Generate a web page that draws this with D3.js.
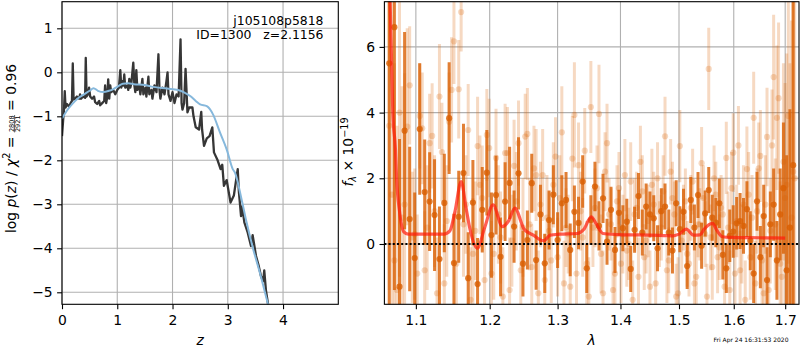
<!DOCTYPE html>
<html>
<head>
<meta charset="utf-8">
<script src="https://cdn.jsdelivr.net/npm/d3@7"></script>
<style>
body { margin: 0; background: #fff; }
svg { display: block; font-family: "DejaVu Sans", sans-serif; }
</style>
</head>
<body>
<script>
const gridColor = "#b0b0b0";
const orange = "#d95f02";
const fontSize = "13.9px";

// ---- left panel: redshift probability ----
const zTicks = [0, 1, 2, 3, 4];
const logpTicks = [-5, -4, -3, -2, -1, 0, 1];

const pzZ = [0, 0.02, 0.036, 0.05, 0.064, 0.09, 0.127, 0.155, 0.18, 0.195, 0.21, 0.236, 0.27, 0.31, 0.327, 0.345, 0.38, 0.418, 0.43, 0.445,
	0.47, 0.49, 0.51, 0.545, 0.58, 0.6, 0.636, 0.673, 0.69, 0.727, 0.764, 0.78, 0.8, 0.82, 0.836, 0.855, 0.873, 0.89, 0.927, 0.964,
	1.0, 1.03, 1.055, 1.073, 1.09, 1.11, 1.127, 1.145, 1.18, 1.2, 1.218, 1.236, 1.255, 1.29, 1.31, 1.327, 1.345, 1.364, 1.4, 1.418,
	1.455, 1.473, 1.51, 1.527, 1.564, 1.58, 1.618, 1.636, 1.673, 1.71, 1.745, 1.764, 1.78, 1.818, 1.855, 1.89, 1.91, 1.927, 1.964, 2.0,
	2.036, 2.073, 2.11, 2.145, 2.164, 2.18, 2.21, 2.236, 2.27, 2.3, 2.36, 2.38, 2.42, 2.48, 2.52, 2.535, 2.57, 2.62, 2.67, 2.72,
	2.75, 2.81, 2.87, 2.9, 2.93, 2.98, 3.05, 3.11, 3.18, 3.2, 3.24, 3.26, 3.3, 3.36, 3.42, 3.45, 3.51, 3.56, 3.6, 3.64,
	3.66, 3.69, 3.745];
const pzLogp = [-1.45, -1.1, -0.85, -0.43, -0.8, -0.72, -0.78, -0.7, -0.65, 0.2, -0.62, -0.6, -0.55, -0.6, -0.5, -0.6, -0.55, -0.58, 0.33, -0.55,
	-0.5, -0.35, -0.55, -0.6, -0.55, -0.68, -0.72, -0.65, -0.75, -0.7, -0.65, -0.3, -0.7, -0.55, -0.16, -0.6, -0.3, -0.45, -0.4, -0.5,
	-0.4, -0.35, 0.05, -0.35, -0.2, -0.3, -0.05, -0.35, -0.3, -0.4, -0.15, -0.35, -0.25, 0.22, -0.3, -0.45, 0.05, -0.4, -0.3, -0.5,
	-0.15, -0.5, -0.35, -0.55, -0.1, -0.5, -0.4, -0.6, -0.3, -0.45, 0.41, -0.4, -0.6, -0.35, -0.5, -0.2, 0.0, -0.5, -0.65, -0.45,
	-0.7, -0.5, -0.55, 0.75, -0.7, -0.85, -0.7, 0.08, -0.91, -0.8, -0.8, -1.0, -1.25, -1.3, -0.9, -1.3, -1.67, -1.5, -1.45, -1.25,
	-1.82, -1.98, -2.2, -2.1, -2.58, -2.45, -2.96, -2.8, -2.2, -2.7, -3.27, -3.05, -3.41, -3.64, -3.95, -3.7, -4.17, -4.4, -4.63, -4.75,
	-4.5, -4.95, -5.4];

const priorZ = [0, 0.1, 0.2, 0.27, 0.4, 0.5, 0.57, 0.65, 0.75, 0.85, 0.93, 1.0, 1.1, 1.2, 1.3, 1.5, 1.6, 1.9, 2.1, 2.2,
	2.32, 2.42, 2.5, 2.62, 2.73, 2.86, 2.98, 3.09, 3.13, 3.25, 3.34, 3.46, 3.58, 3.72, 3.78];
const priorLogp = [-1.05, -0.85, -0.7, -0.61, -0.5, -0.42, -0.36, -0.42, -0.45, -0.42, -0.38, -0.33, -0.26, -0.25, -0.27, -0.29, -0.32, -0.37, -0.4, -0.45,
	-0.54, -0.65, -0.73, -0.77, -0.95, -1.37, -1.75, -2.2, -2.28, -2.89, -3.41, -4.02, -4.55, -5.23, -5.5];

const objName = "j105108p5818";
const objInfo = "ID=1300\u00a0\u00a0\u00a0z=2.1156";
const chiNum = "2808";
const chiDen = "2921";
const chiRatio = "0.96";

// ---- right panel: spectrum ----
const lamTicks = [1.1, 1.2, 1.3, 1.4, 1.5, 1.6, 1.7];
const fluxTicks = [0, 2, 4, 6];

const waveA = [1.0660, 1.0725, 1.0790, 1.0855, 1.0920, 1.0985, 1.1050, 1.1115, 1.1180, 1.1245,
	1.1310, 1.1375, 1.1440, 1.1505, 1.1570, 1.1635, 1.1700, 1.1765, 1.1830, 1.1895,
	1.1960, 1.2025, 1.2090, 1.2155, 1.2220, 1.2285, 1.2350, 1.2415, 1.2480, 1.2545,
	1.2610, 1.2675, 1.2740, 1.2805, 1.2870, 1.2935, 1.3000, 1.3065, 1.3130, 1.3195,
	1.3260, 1.3325, 1.3390, 1.3455, 1.3520, 1.3585, 1.3650, 1.3715, 1.3780, 1.3845,
	1.3910, 1.3975, 1.4040, 1.4105, 1.4170, 1.4235, 1.4300, 1.4365, 1.4430, 1.4495,
	1.4560, 1.4625, 1.4690, 1.4755, 1.4820, 1.4885, 1.4950, 1.5015, 1.5080, 1.5145,
	1.5210, 1.5275, 1.5340, 1.5405, 1.5470, 1.5535, 1.5600, 1.5665, 1.5730, 1.5795,
	1.5860, 1.5925, 1.5990, 1.6055, 1.6120, 1.6185, 1.6250, 1.6315, 1.6380, 1.6445,
	1.6510, 1.6575, 1.6640, 1.6705, 1.6770, 1.6835, 1.6900, 1.6965, 1.7030, 1.7095,
	1.7160];
const waveB = [1.0693, 1.0758, 1.0823, 1.0888, 1.0953, 1.1018, 1.1083, 1.1148, 1.1213, 1.1278,
	1.1343, 1.1408, 1.1473, 1.1538, 1.1603, 1.1668, 1.1733, 1.1798, 1.1863, 1.1928,
	1.1993, 1.2058, 1.2123, 1.2188, 1.2253, 1.2318, 1.2383, 1.2448, 1.2513, 1.2578,
	1.2643, 1.2708, 1.2773, 1.2838, 1.2903, 1.2968, 1.3033, 1.3098, 1.3163, 1.3228,
	1.3293, 1.3358, 1.3423, 1.3488, 1.3553, 1.3618, 1.3683, 1.3748, 1.3813, 1.3878,
	1.3943, 1.4008, 1.4073, 1.4138, 1.4203, 1.4268, 1.4333, 1.4398, 1.4463, 1.4528,
	1.4593, 1.4658, 1.4723, 1.4788, 1.4853, 1.4918, 1.4983, 1.5048, 1.5113, 1.5178,
	1.5243, 1.5308, 1.5373, 1.5438, 1.5503, 1.5568, 1.5633, 1.5698, 1.5763, 1.5828,
	1.5893, 1.5958, 1.6023, 1.6088, 1.6153, 1.6218, 1.6283, 1.6348, 1.6413, 1.6478,
	1.6543, 1.6608, 1.6673, 1.6738, 1.6803, 1.6868, 1.6933, 1.6998, 1.7063, 1.7128,
	1.7193];

const darkFlux = [5.5, 6.6, -1.3, 3.45, 0.76, -0.43, 3.5, 1.58, 1.29, 0.88,
	-0.46, 1.25, 3.83, -0.58, 0.83, 2.16, -1.04, 1.26, -1.22, 1.04,
	2.17, 0.27, 1.49, -0.39, 1.29, 1.86, 0.53, 2.15, -0.6, 0.12,
	1.85, -0.49, 0.9, -0.59, 0.73, 1.5, 0.12, 1.24, 1.34, -0.18,
	0.98, 0.64, 1.9, -0.74, 0.73, 1.75, 0.55, 1.39, 0.07, 1.04,
	-0.18, 0.95, 0.48, 0.68, -0.76, 0.43, 1.46, 0.35, 1.14, 0.9,
	0.78, -0.13, 1.0, 1.14, 0.35, -0.2, 1.24, 0.45, 0.98, -0.67,
	1.34, 0.5, 1.49, -0.05, 0.93, 1.64, 0.8, 0.65, 1.24, -0.33,
	-0.74, 0.25, 0.38, 0.63, 0.7, 0.55, 1.06, 0.1, -0.9, 1.3,
	-0.4, 0.85, -1.1, 0.6, 1.2, -0.5, 0.9, 1.7, -0.8, 0.5,
	2.4];
const darkErr = [8, 8, 4.5, 3.0, 2.2, 2.0, 2.0, 1.6, 1.5, 1.7,
	1.6, 1.5, 1.7, 1.5, 1.4, 1.5, 1.4, 1.3, 1.4, 1.3,
	1.3, 1.3, 1.2, 1.2, 1.2, 1.1, 1.1, 1.1, 1.0, 0.9,
	0.9, 0.9, 0.9, 0.9, 0.9, 0.9, 0.85, 0.85, 0.85, 0.8,
	0.8, 0.8, 0.8, 0.75, 0.75, 0.75, 0.75, 0.75, 0.7, 0.7,
	0.7, 0.7, 0.7, 0.7, 0.7, 0.7, 0.7, 0.7, 0.7, 0.7,
	0.7, 0.7, 0.7, 0.7, 0.7, 0.7, 0.7, 0.7, 0.7, 0.7,
	0.7, 0.7, 0.7, 0.7, 0.7, 0.7, 0.7, 0.75, 0.75, 0.75,
	0.75, 0.8, 0.8, 0.8, 0.85, 0.85, 0.85, 0.9, 0.9, 0.9,
	0.95, 0.95, 1.0, 1.0, 1.1, 1.2, 1.4, 2.0, 3.5, 3.6,
	9];

const lightAFlux = [3.6, -0.5, 4.0, 1.2, 4.83, 0.3, 3.9, -0.8, 3.07, 1.0,
	4.49, -1.2, 3.72, 6.17, 4.71, 0.6, 3.47, -0.3, 2.98, 1.4,
	3.32, -0.9, 2.62, 0.2, 2.77, -1.4, 2.38, 3.07, 0.5, 3.35,
	-0.7, 2.1, 1.2, -1.1, 0.4, 1.8, -0.4, 3.4, 0.5, -1.3,
	3.93, 2.4, 0.2, -0.6, 4.17, 1.1, 3.96, -1.5, 3.07, 0.6,
	-0.9, 1.7, 0.3, -0.2, 1.9, 0.9, -1.0, 1.6, 0.1, -1.3,
	1.2, 2.0, 0.5, 3.28, -0.5, 1.4, -1.6, 2.98, 0.8, -0.3,
	1.1, -1.2, 0.6, 2.46, 0.3, 5.33, -0.7, 1.5, -0.1, 0.9,
	2.62, -1.4, 2.78, 0.7, -0.8, 1.2, 2.28, -0.4, 3.84, 1.0,
	2.68, -1.5, 3.26, 0.4, 5.08, 3.84, -0.6, 2.5, 1.8, 0.5,
	2.2];
const lightAErr = [5, 6, 5, 4, 1.8, 2.0, 1.6, 1.8, 1.5, 1.7,
	1.6, 1.8, 1.5, 1.3, 1.5, 1.6, 1.4, 1.7, 1.5, 1.6,
	1.4, 1.6, 1.5, 1.4, 1.5, 1.6, 1.4, 1.3, 1.5, 1.4,
	1.3, 1.4, 1.3, 1.4, 1.2, 1.3, 1.2, 1.4, 1.2, 1.3,
	1.6, 1.3, 1.2, 1.3, 1.4, 1.2, 1.5, 1.3, 1.2, 1.1,
	1.2, 1.1, 1.2, 1.1, 1.2, 1.1, 1.2, 1.1, 1.0, 1.1,
	1.0, 1.1, 1.0, 1.2, 1.0, 1.1, 1.0, 1.1, 1.0, 1.0,
	1.0, 1.0, 1.0, 1.1, 1.0, 1.25, 1.0, 1.0, 1.0, 1.1,
	1.1, 1.2, 1.2, 1.1, 1.2, 1.2, 1.3, 1.3, 1.4, 1.3,
	1.4, 1.5, 1.5, 1.6, 1.9, 2.2, 2.5, 3.0, 4.0, 5.0,
	6.0];

const lightBFlux = [1.5, -1.4, 0.8, 3.57, 0.2, -0.9, 3.52, 0.5, 3.29, -1.5,
	2.8, 0.7, 4.69, -0.6, 7.06, 1.2, -1.7, 0.4, 1.8, -1.1,
	2.92, -0.3, 0.9, -1.6, 2.77, 0.1, 1.3, -0.8, 3.27, 0.6,
	2.3, -1.5, 2.1, 0.8, -0.5, 2.66, 1.4, -1.2, 0.3, 2.6,
	-0.9, 1.0, 2.84, -1.6, 0.5, 1.7, -0.3, 2.2, 0.9, -1.4,
	1.3, -0.6, 2.1, 0.0, -1.7, 1.1, 2.5, -0.4, 0.7, 1.8,
	-1.2, 0.3, 1.6, -0.8, 2.2, 0.9, -1.5, 0.1, 1.3, -0.6,
	1.9, -1.0, 0.6, 1.4, -1.6, 0.2, 2.0, -0.4, 1.1, -1.3,
	0.5, 1.7, -0.9, 3.0, 0.0, -1.7, 1.5, 0.8, -1.2, 2.3,
	-0.5, 1.2, -1.4, 3.0, 0.6, 4.44, -1.0, 1.4, 3.9, 0.8,
	2.0];
const lightBErr = [6, 5, 4, 3.0, 2.0, 1.8, 1.7, 1.9, 1.6, 1.7,
	1.5, 1.7, 1.6, 1.6, 1.2, 1.5, 1.6, 1.5, 1.5, 1.6,
	1.5, 1.4, 1.5, 1.5, 1.4, 1.4, 1.5, 1.4, 1.3, 1.4,
	1.3, 1.3, 1.4, 1.3, 1.3, 1.2, 1.3, 1.3, 1.2, 1.3,
	1.2, 1.2, 1.3, 1.2, 1.2, 1.3, 1.2, 1.2, 1.1, 1.2,
	1.1, 1.2, 1.1, 1.1, 1.2, 1.1, 1.1, 1.0, 1.1, 1.1,
	1.0, 1.0, 1.1, 1.0, 1.0, 1.0, 1.1, 1.0, 1.0, 1.0,
	1.0, 1.0, 1.1, 1.0, 1.0, 1.0, 1.0, 1.1, 1.0, 1.1,
	1.1, 1.1, 1.2, 1.2, 1.2, 1.2, 1.3, 1.3, 1.3, 1.4,
	1.4, 1.5, 1.6, 1.7, 2.0, 2.3, 2.8, 3.5, 4.5, 6.0,
	7.0];

const modelWave = [1.0655, 1.0685, 1.0705, 1.0739, 1.0753, 1.0790, 1.0845, 1.090, 1.100, 1.120,
	1.1368, 1.145, 1.152, 1.1603, 1.167, 1.172, 1.1826, 1.193, 1.2048, 1.2181,
	1.227, 1.2361, 1.2498, 1.2632, 1.2787, 1.2887, 1.3036, 1.330, 1.341, 1.3525,
	1.361, 1.3715, 1.404, 1.450, 1.490, 1.500, 1.513, 1.526, 1.5375, 1.545,
	1.5604, 1.569, 1.579, 1.594, 1.650, 1.700];
const modelFlux = [9.0, 6.0, 4.0, 2.86, 2.0, 1.0, 0.37, 0.3, 0.3, 0.3,
	0.3, 0.4, 1.0, 1.9, 1.1, 0.5, -0.13, 0.5, 1.19, 0.53,
	0.7, 1.09, 0.45, 0.27, 0.1, 0.27, 0.3, 0.32, 0.45, 0.83,
	0.6, 0.32, 0.28, 0.27, 0.25, 0.3, 0.45, 0.27, 0.28, 0.45,
	0.63, 0.4, 0.22, 0.2, 0.19, 0.18];

const timeStamp = "Fri Apr 24 16:31:53 2020";

// ---- layout ----
const boxL = { left: 62, right: 338.3, top: 1.7, bottom: 304.3 };
const boxR = { left: 384.4, right: 799, top: 1.7, bottom: 304.3 };

const body = d3.select("body");
const svg = body.append("svg")
	.attr("width", 800)
	.attr("height", 350)
	.style("background-color", "white");

const xL = d3.scaleLinear().domain([0, 5]).range([boxL.left, boxL.right]);
const yL = d3.scaleLinear().domain([-5.273, 1.605]).range([boxL.bottom, boxL.top]);
const xR = d3.scaleLog().domain([1.05995, 1.7279]).range([boxR.left, boxR.right]);
const yR = d3.scaleLinear().domain([-1.836, 7.376]).range([boxR.bottom, boxR.top]);

const defs = svg.append("defs");
[["clipL", boxL], ["clipR", boxR]].forEach(([id, b]) => {
	defs.append("clipPath").attr("id", id)
		.append("rect")
		.attr("x", b.left).attr("y", b.top)
		.attr("width", b.right - b.left).attr("height", b.bottom - b.top);
});

// grid lines
function drawGrid(b, xs, xVals, ys, yVals) {
	const g = svg.append("g");
	g.selectAll(null).data(xVals).join("line")
		.attr("x1", d => xs(d)).attr("x2", d => xs(d))
		.attr("y1", b.top).attr("y2", b.bottom)
		.style("stroke", gridColor).style("stroke-width", 1.1);
	g.selectAll(null).data(yVals).join("line")
		.attr("x1", b.left).attr("x2", b.right)
		.attr("y1", d => ys(d)).attr("y2", d => ys(d))
		.style("stroke", gridColor).style("stroke-width", 1.1);
}
drawGrid(boxL, xL, zTicks, yL, logpTicks);
drawGrid(boxR, xR, lamTicks, yR, fluxTicks);

// left panel curves
const gL = svg.append("g").attr("clip-path", "url(#clipL)");
const pzLine = d3.line().x(d => xL(d[0])).y(d => yL(d[1]));
gL.append("path")
	.datum(pzZ.map((z, i) => [z, pzLogp[i]]))
	.attr("d", pzLine)
	.style("fill", "none")
	.style("stroke", "#363636")
	.style("stroke-width", 2.3)
	.style("stroke-linejoin", "round");
gL.append("path")
	.datum(priorZ.map((z, i) => [z, priorLogp[i]]))
	.attr("d", d3.line().curve(d3.curveMonotoneX).x(d => xL(d[0])).y(d => yL(d[1])))
	.style("fill", "none")
	.style("stroke", "#86b8dc")
	.style("stroke-width", 2);

// right panel: error bars
const gR = svg.append("g").attr("clip-path", "url(#clipR)");
function drawErrorbars(wave, flux, err, alpha, barWidth) {
	const pts = wave.map((w, i) => ({ w: w, f: flux[i], e: err[i] }));
	const g = gR.append("g");
	g.selectAll(null).data(pts).join("line")
		.attr("x1", d => xR(d.w)).attr("x2", d => xR(d.w))
		.attr("y1", d => yR(d.f - d.e)).attr("y2", d => yR(d.f + d.e))
		.style("stroke", orange)
		.style("stroke-width", barWidth)
		.style("stroke-opacity", alpha);
	g.selectAll(null).data(pts).join("circle")
		.attr("cx", d => xR(d.w)).attr("cy", d => yR(d.f))
		.attr("r", 3.1)
		.style("fill", orange)
		.style("fill-opacity", alpha);
}
drawErrorbars(waveA, lightAFlux, lightAErr, 0.24, 3);
drawErrorbars(waveB, lightBFlux, lightBErr, 0.24, 3);
drawErrorbars(waveA, darkFlux, darkErr, 0.8, 3);

// model
gR.append("path")
	.datum(modelWave.map((w, i) => [w, modelFlux[i]]))
	.attr("d", d3.line().curve(d3.curveMonotoneX).x(d => xR(d[0])).y(d => yR(d[1])))
	.style("fill", "none")
	.style("stroke", "#ff1a0a")
	.style("stroke-opacity", 0.7)
	.style("stroke-width", 3.2);

// zero line
svg.append("line")
	.attr("x1", boxR.left).attr("x2", boxR.right)
	.attr("y1", yR(0)).attr("y2", yR(0))
	.style("stroke", "black")
	.style("stroke-width", 2)
	.style("stroke-dasharray", "2,2.2");

// axes
function styleAxis(g) {
	g.select(".domain").remove();
	g.selectAll(".tick line").style("stroke", "black").style("stroke-width", 1.1);
	g.selectAll(".tick text")
		.style("font-size", fontSize)
		.style("font-family", "DejaVu Sans")
		.style("fill", "black");
}
svg.append("g").attr("transform", `translate(0,${boxL.bottom})`)
	.call(d3.axisBottom(xL).tickValues(zTicks).tickFormat(d3.format("d")).tickSize(4.9).tickPadding(5.5))
	.call(styleAxis);
svg.append("g").attr("transform", `translate(${boxL.left},0)`)
	.call(d3.axisLeft(yL).tickValues(logpTicks).tickFormat(d3.format("d")).tickSize(4.9).tickPadding(4.5))
	.call(styleAxis);
svg.append("g").attr("transform", `translate(0,${boxR.bottom})`)
	.call(d3.axisBottom(xR).tickValues(lamTicks).tickFormat(d3.format(".1f")).tickSize(4.9).tickPadding(5.5))
	.call(styleAxis);
svg.append("g").attr("transform", `translate(${boxR.left},0)`)
	.call(d3.axisLeft(yR).tickValues(fluxTicks).tickFormat(d3.format("d")).tickSize(4.9).tickPadding(4.5))
	.call(styleAxis);

// spines
[boxL, boxR].forEach(b => {
	svg.append("rect")
		.attr("x", b.left).attr("y", b.top)
		.attr("width", b.right - b.left).attr("height", b.bottom - b.top)
		.style("fill", "none")
		.style("stroke", "black")
		.style("stroke-width", 1.1);
});

// annotation in left panel
svg.append("text")
	.attr("x", 323.5).attr("y", 24.5)
	.attr("text-anchor", "end")
	.style("font-size", "12.4px")
	.text(objName);
svg.append("text")
	.attr("x", 323.5).attr("y", 38.5)
	.attr("text-anchor", "end")
	.style("font-size", "12.4px")
	.text(objInfo);

// x labels
svg.append("text")
	.attr("x", (boxL.left + boxL.right) / 2).attr("y", 345)
	.attr("text-anchor", "middle")
	.style("font-size", fontSize)
	.style("font-style", "italic")
	.text("z");
svg.append("text")
	.attr("x", (boxR.left + boxR.right) / 2).attr("y", 345)
	.attr("text-anchor", "middle")
	.style("font-size", fontSize)
	.style("font-style", "italic")
	.text("λ");

// left y label with a stacked fraction
const fracSize = 6.6;
const gLab = svg.append("g").attr("transform", "translate(15.5,148.5) rotate(-90)");
const yLab = gLab.append("text")
	.attr("text-anchor", "middle")
	.style("font-size", fontSize)
	.style("white-space", "pre");
yLab.append("tspan").text("log ");
yLab.append("tspan").style("font-style", "italic").text("p");
yLab.append("tspan").text("(");
yLab.append("tspan").style("font-style", "italic").text("z");
yLab.append("tspan").text(") / ");
yLab.append("tspan").style("font-style", "italic").text("χ");
yLab.append("tspan").attr("dy", -5.5).style("font-size", "9.7px").text("2");
yLab.append("tspan").attr("dy", 5.5).text(" = ");
const numSpan = yLab.append("tspan").attr("dy", -1.6).style("font-size", fracSize + "px").text(chiNum);
const numW = numSpan.node().getComputedTextLength();
yLab.append("tspan").attr("dx", -numW).attr("dy", 6.2).style("font-size", fracSize + "px").text(chiDen);
yLab.append("tspan").attr("dy", -4.6).text(" = " + chiRatio);
const numStart = "log p(z) / χ2 = ".length;
const ext = yLab.node().getExtentOfChar(numStart);
gLab.append("line")
	.attr("x1", ext.x - 0.3).attr("x2", ext.x + numW + 0.3)
	.attr("y1", -0.9).attr("y2", -0.9)
	.style("stroke", "black")
	.style("stroke-width", 0.6);

// right y label
const yLabR = svg.append("text")
	.attr("transform", "translate(353,152) rotate(-90)")
	.attr("text-anchor", "middle")
	.style("font-size", fontSize);
yLabR.append("tspan").style("font-style", "italic").text("f");
yLabR.append("tspan").attr("dy", 3).style("font-size", "9.7px").style("font-style", "italic").text("λ");
yLabR.append("tspan").attr("dy", -3).text(" × 10");
yLabR.append("tspan").attr("dy", -5.5).style("font-size", "9.7px").text("−19");

// time stamp
svg.append("text")
	.attr("x", 788.5).attr("y", 341.5)
	.attr("text-anchor", "end")
	.style("font-size", "6px")
	.text(timeStamp);
</script>
</body>
</html>
